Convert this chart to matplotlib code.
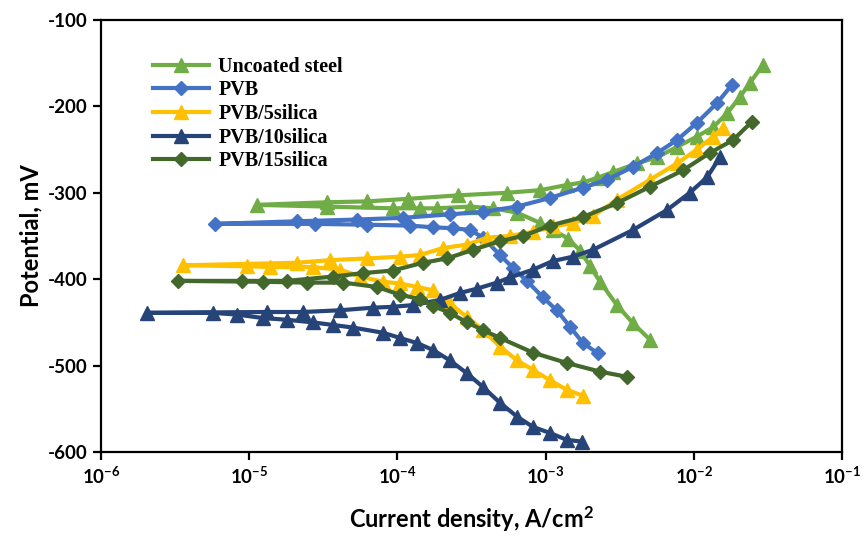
import matplotlib
matplotlib.use('Agg')
import matplotlib.pyplot as plt
from matplotlib.ticker import LogLocator, NullLocator

plt.rcParams['font.family'] = ['Lato', 'DejaVu Sans']
plt.rcParams['font.weight'] = 'bold'
plt.rcParams['axes.labelweight'] = 'bold'
plt.rcParams['axes.unicode_minus'] = False
plt.rcParams['mathtext.fontset'] = 'custom'
plt.rcParams['mathtext.rm'] = 'Lato:bold'
plt.rcParams['mathtext.default'] = 'regular'

# current density (A/cm2) and potential (mV):
# cathodic branch from its end up to Ecorr, then anodic branch
uncoated_i = [5.06e-3, 3.89e-3, 3.03e-3, 2.33e-3, 2.0e-3, 1.71e-3, 1.42e-3, 1.12e-3, 9.2e-4,
              6.41e-4, 4.42e-4, 3.09e-4, 1.85e-4, 1.42e-4, 9.3e-5, 3.35e-5, 1.13e-5, 3.35e-5,
              6.24e-5, 1.18e-4, 2.56e-4, 5.5e-4, 9.2e-4, 1.39e-3, 1.79e-3, 2.22e-3, 2.85e-3,
              4.14e-3, 5.65e-3, 7.7e-3, 1.05e-2, 1.35e-2, 1.68e-2, 2.05e-2, 2.39e-2, 2.93e-2]
uncoated_e = [-470, -451, -430, -403, -385, -367, -353, -343, -335, -323, -318, -316, -318,
              -318, -318, -316, -314, -311, -310, -307, -303, -300, -297, -291, -288, -283,
              -276, -266, -259, -247, -235, -224, -208, -189, -173, -152]

pvb_i = [2.26e-3, 1.79e-3, 1.46e-3, 1.19e-3, 9.59e-4, 7.48e-4, 6.03e-4, 4.92e-4, 3.79e-4,
         3.09e-4, 2.37e-4, 1.74e-4, 1.22e-4, 6.24e-5, 2.78e-5, 5.87e-6, 2.10e-5, 5.33e-5,
         1.09e-4, 2.26e-4, 3.79e-4, 6.41e-4, 1.07e-3, 1.79e-3, 2.59e-3, 3.89e-3, 5.65e-3,
         7.7e-3, 1.05e-2, 1.44e-2, 1.81e-2]
pvb_e = [-486, -474, -455, -436, -421, -402, -387, -372, -352, -343, -341, -340, -338, -337,
         -336, -336, -333, -331, -329, -325, -322, -316, -306, -294, -285, -270, -254, -239,
         -219, -196, -175]

s5_i = [1.79e-3, 1.39e-3, 1.07e-3, 8.22e-4, 6.41e-4, 4.92e-4, 3.79e-4, 2.95e-4, 2.26e-4,
        1.74e-4, 1.36e-4, 1.04e-4, 8.0e-5, 5.6e-5, 4.1e-5, 2.69e-5, 1.38e-5, 9.66e-6, 3.57e-6,
        2.10e-5, 3.51e-5, 6.24e-5, 1.04e-4, 1.42e-4, 2.03e-4, 2.95e-4, 4.03e-4, 5.75e-4,
        8.22e-4, 1.12e-3, 1.53e-3, 2.09e-3, 3.03e-3, 5.06e-3, 7.7e-3, 1.05e-2, 1.35e-2, 1.57e-2]
s5_e = [-535, -528, -517, -505, -494, -478, -459, -444, -428, -413, -409, -405, -403, -397,
        -389, -386, -386, -385, -384, -381, -378, -376, -374, -372, -364, -360, -352, -350,
        -345, -339, -335, -327, -308, -285, -266, -250, -235, -225]

s10_i = [1.76e-3, 1.39e-3, 1.07e-3, 8.22e-4, 6.41e-4, 4.92e-4, 3.79e-4, 2.95e-4, 2.26e-4,
         1.74e-4, 1.36e-4, 1.04e-4, 8.0e-5, 5.01e-5, 3.67e-5, 2.69e-5, 1.80e-5, 1.24e-5,
         8.28e-6, 5.70e-6, 2.04e-6, 1.32e-5, 2.31e-5, 4.10e-5, 6.84e-5, 9.3e-5, 1.27e-4,
         1.94e-4, 2.64e-4, 3.44e-4, 4.70e-4, 5.75e-4, 8.22e-4, 1.12e-3, 1.53e-3, 2.09e-3,
         3.89e-3, 6.59e-3, 9.4e-3, 1.23e-2, 1.50e-2]
s10_e = [-588, -586, -578, -571, -559, -543, -525, -509, -494, -482, -474, -468, -462, -456,
         -453, -450, -447, -445, -441, -439, -439, -438, -438, -436, -433, -432, -430, -424,
         -416, -411, -404, -398, -389, -379, -374, -366, -343, -320, -300, -282, -259]

s15_i = [3.54e-3, 2.33e-3, 1.39e-3, 8.22e-4, 4.92e-4, 3.79e-4, 2.95e-4, 2.26e-4, 1.74e-4,
         1.42e-4, 1.04e-4, 7.27e-5, 4.30e-5, 2.45e-5, 1.24e-5, 3.31e-6, 8.93e-6, 1.80e-5,
         3.67e-5, 5.86e-5, 9.3e-5, 1.49e-4, 2.16e-4, 3.24e-4, 4.92e-4, 7.05e-4, 1.07e-3,
         1.79e-3, 3.03e-3, 5.06e-3, 8.45e-3, 1.28e-2, 1.84e-2, 2.46e-2]
s15_e = [-513, -507, -497, -485, -468, -459, -450, -439, -431, -423, -418, -409, -404, -404,
         -403, -402, -402, -402, -397, -393, -390, -381, -376, -366, -356, -350, -338, -328,
         -312, -293, -274, -254, -239, -218]

labels = ["Uncoated steel", "PVB", "PVB/5silica", "PVB/10silica", "PVB/15silica"]
colors = ["#70AD47", "#4472C4", "#FFC000", "#264478", "#43682B"]
markers = ["^", "D", "^", "^", "D"]

series = [(uncoated_i, uncoated_e), (pvb_i, pvb_e), (s5_i, s5_e), (s10_i, s10_e), (s15_i, s15_e)]

fig = plt.figure(figsize=(8.64, 5.38), dpi=100)
ax = fig.add_axes([0.1169, 0.1599, 0.8576, 0.8030])

for (cur, pot), lab, col, mk in zip(series, labels, colors, markers):
    ms = 10 if mk == "^" else 7.5
    ax.plot(cur, pot, color=col, lw=3, marker=mk, ms=ms, label=lab)

ax.set_xscale("log")
ax.set_xlim(1e-6, 1e-1)
ax.set_ylim(-600, -100)
ax.xaxis.set_major_locator(LogLocator(base=10, numticks=10))
ax.xaxis.set_minor_locator(NullLocator())
ax.set_yticks([-600, -500, -400, -300, -200, -100])

for s in ax.spines.values():
    s.set_linewidth(1.6)
ax.tick_params(axis="both", direction="out", length=6, width=1.6, labelsize=13.5)

ax.set_xlabel("Current density, A/cm$^2$", fontsize=17, fontweight="bold", labelpad=13)
ax.set_ylabel("Potential, mV", fontsize=17, fontweight="bold", labelpad=4)

leg = ax.legend(loc="upper left", bbox_to_anchor=(0.070, 0.915), frameon=False,
                borderpad=0, borderaxespad=0,
                prop={"family": "Liberation Serif", "weight": "bold", "size": 14.5},
                handlelength=2.8, handletextpad=0.45, labelspacing=0.18)

fig.savefig("out.png", dpi=100)
